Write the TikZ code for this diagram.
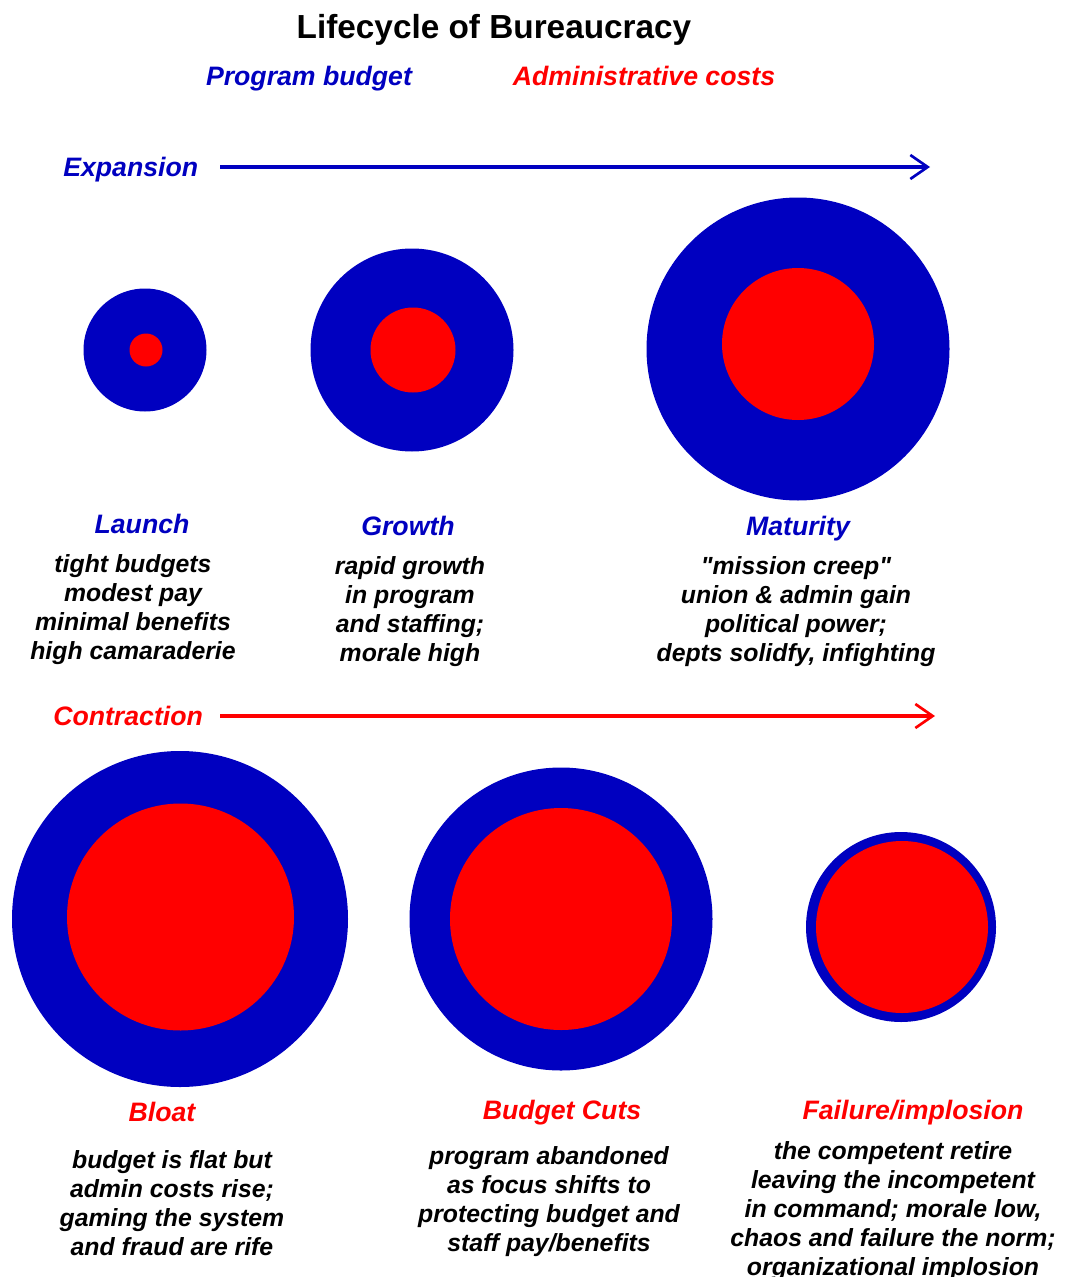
\documentclass[tikz,border=0pt]{standalone}
\usepackage{fontspec}
\setmainfont{Liberation Sans}[Ligatures=TeXOff]
\usetikzlibrary{arrows.meta}
\definecolor{pb}{RGB}{0,0,192}
\definecolor{ac}{RGB}{255,0,0}
\begin{document}
\begin{tikzpicture}[x=0.75pt,y=-0.75pt,
  outer/.style={circle,fill=pb,inner sep=0pt,outer sep=0pt,minimum size=#1},
  inner/.style={circle,fill=ac,inner sep=0pt,outer sep=0pt,minimum size=#1},
  lbl/.style={font=\fontsize{20}{24}\selectfont\bfseries\itshape,inner sep=0pt},
  body/.style={font=\fontsize{18.6}{21.75}\selectfont\bfseries\itshape,align=center,inner sep=0pt,text=black},
  phase/.style={line width=2.3pt,-{Straight Barb[length=13pt,width=18pt,line width=2pt]}}]
\useasboundingbox (0,0) rectangle (1065,1277);
% title and legend
\node[font=\fontsize{25}{30}\selectfont\bfseries,inner sep=0pt] (title) at (494,30) {Lifecycle of Bureaucracy};
\node[lbl,text=pb] (legpb) at (309,79) {Program budget};
\node[lbl,text=ac] (legac) at (644,76) {Administrative costs};
% expansion
\node[lbl,text=pb,anchor=west] (exp) at (63,170) {Expansion};
\coordinate (expend) at (930,167);
\draw[phase,pb] (220,167) -- (expend);
\node[outer=92.25pt] (o1) at (145,350) {};
\node[inner=24.75pt] (i1) at (146,350) {};
\node[outer=152.25pt] (o2) at (412,350) {};
\node[inner=63.75pt] (i2) at (413,350) {};
\node[outer=227.25pt] (o3) at (798,349) {};
\node[inner=114pt] (i3) at (798,344) {};
\node[lbl,text=pb] (l1) at (142,524) {Launch};
\node[lbl,text=pb] (l2) at (408,526) {Growth};
\node[lbl,text=pb] (l3) at (798,529) {Maturity};
\node[body] (b1) at (133,610) {tight budgets\\modest pay\\minimal benefits\\high camaraderie};
\node[body] (b2) at (410,612) {rapid growth\\in program\\and staffing;\\morale high};
\node[body] (b3) at (796,612) {"mission creep"\\union \& admin gain\\political power;\\depts solidfy, infighting};
% contraction
\node[lbl,text=ac,anchor=west] (con) at (53,716) {Contraction};
\coordinate (conend) at (935,716);
\draw[phase,ac] (220,716) -- (conend);
\node[outer=252pt] (o4) at (180,919) {};
\node[inner=170.25pt] (i4) at (180.5,917) {};
\node[outer=227.25pt] (o5) at (561,919) {};
\node[inner=166.5pt] (i5) at (561,919) {};
\node[outer=142.5pt] (o6) at (901,927) {};
\node[inner=129pt] (i6) at (902,927) {};
\node[lbl,text=ac] (l4) at (162,1112) {Bloat};
\node[lbl,text=ac] (l5) at (562,1113) {Budget Cuts};
\node[lbl,text=ac] (l6) at (913,1113) {Failure/implosion};
\node[body] (b4) at (172,1203) {budget is flat but\\admin costs rise;\\gaming the system\\and fraud are rife};
\node[body] (b5) at (549,1202) {program abandoned\\as focus shifts to\\protecting budget and\\staff pay/benefits};
\node[body] (b6) at (893,1211) {the competent retire\\leaving the incompetent\\in command; morale low,\\chaos and failure the norm;\\organizational implosion};
\end{tikzpicture}
\end{document}
